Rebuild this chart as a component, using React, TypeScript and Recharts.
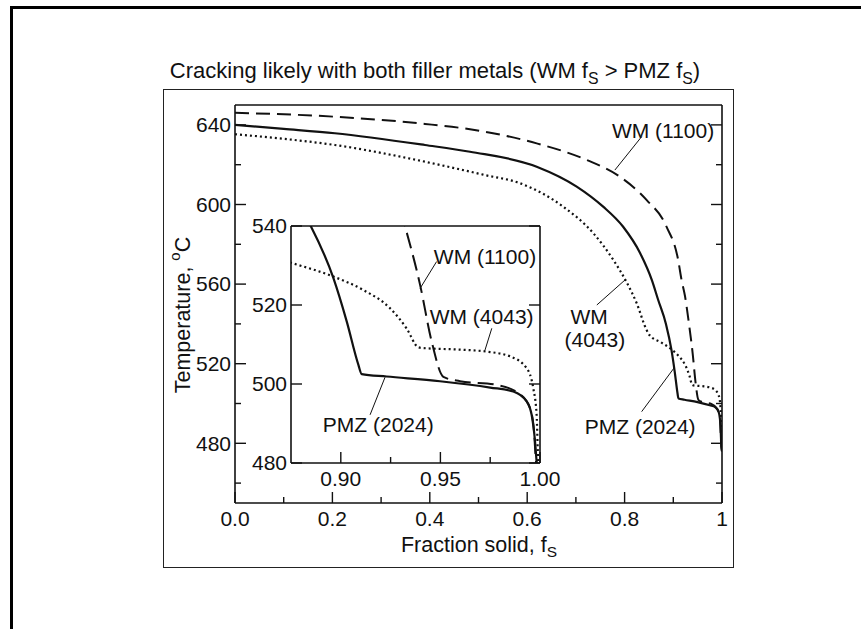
import React from 'react';
import { LineChart, Line, XAxis, YAxis, ReferenceLine, ReferenceDot, ReferenceArea } from 'recharts';

const FONT = '"Liberation Sans", Arial, Helvetica, sans-serif';
const INK = '#111';

// fraction solid vs temperature (deg C)
const pmz2024 = [
  { fs: 0, t: 640 }, { fs: 0.1, t: 638 }, { fs: 0.205, t: 635.8 }, { fs: 0.39, t: 629.9 },
  { fs: 0.4825, t: 626.5 }, { fs: 0.6195, t: 619 }, { fs: 0.7016, t: 609 }, { fs: 0.756, t: 598.9 },
  { fs: 0.797, t: 588.8 }, { fs: 0.832, t: 575.5 }, { fs: 0.856, t: 562 }, { fs: 0.869, t: 552 },
  { fs: 0.8849, t: 540 }, { fs: 0.8963, t: 526.8 }, { fs: 0.903, t: 515.8 }, { fs: 0.9088, t: 504.9 },
  { fs: 0.9105, t: 502.5 }, { fs: 0.923, t: 501.9 }, { fs: 0.9498, t: 500.7 }, { fs: 0.975, t: 499.1 },
  { fs: 0.9866, t: 498.1 }, { fs: 0.9933, t: 495.6 }, { fs: 0.9958, t: 492.2 }, { fs: 0.9975, t: 485.5 },
  { fs: 0.9983, t: 480.4 }, { fs: 1, t: 476 },
];

const wm4043 = [
  { fs: 0, t: 635.3 }, { fs: 0.1, t: 633 }, { fs: 0.205, t: 629.9 }, { fs: 0.39, t: 621.5 },
  { fs: 0.513, t: 614.8 }, { fs: 0.585, t: 610.7 }, { fs: 0.674, t: 598.9 }, { fs: 0.736, t: 585.5 },
  { fs: 0.777, t: 572.1 }, { fs: 0.804, t: 561 }, { fs: 0.825, t: 550.3 }, { fs: 0.845, t: 537 },
  { fs: 0.851, t: 534.4 }, { fs: 0.875, t: 530.7 }, { fs: 0.8963, t: 527.2 }, { fs: 0.9113, t: 523.8 },
  { fs: 0.9247, t: 519.2 }, { fs: 0.933, t: 514.1 }, { fs: 0.9389, t: 509.3 }, { fs: 0.9414, t: 509.1 },
  { fs: 0.9598, t: 508.7 }, { fs: 0.9732, t: 508.2 }, { fs: 0.9849, t: 507 }, { fs: 0.9933, t: 504 },
  { fs: 0.9966, t: 499 }, { fs: 0.9983, t: 492.2 }, { fs: 0.9991, t: 480.4 }, { fs: 1, t: 477 },
];

const wm1100 = [
  { fs: 0, t: 646.1 }, { fs: 0.205, t: 644.1 }, { fs: 0.39, t: 640.5 }, { fs: 0.4825, t: 637.8 },
  { fs: 0.6195, t: 630.7 }, { fs: 0.722, t: 622.4 }, { fs: 0.79, t: 614 }, { fs: 0.845, t: 602.3 },
  { fs: 0.886, t: 588.9 }, { fs: 0.91, t: 572.1 }, { fs: 0.917, t: 562 }, { fs: 0.924, t: 554 },
  { fs: 0.9322, t: 540 }, { fs: 0.9398, t: 525.1 }, { fs: 0.9456, t: 510.8 }, { fs: 0.9515, t: 501.8 },
  { fs: 0.9598, t: 500.7 }, { fs: 0.978, t: 499.8 }, { fs: 0.9902, t: 497.3 }, { fs: 0.995, t: 493.9 },
  { fs: 0.997, t: 488 }, { fs: 0.998, t: 480.4 }, { fs: 1, t: 476 },
];

const mainXTicks = [0, 0.1, 0.2, 0.3, 0.4, 0.5, 0.6, 0.7, 0.8, 0.9, 1];
const mainXLabels: Record<string, string> = { '0': '0.0', '0.2': '0.2', '0.4': '0.4', '0.6': '0.6', '0.8': '0.8', '1': '1' };
const mainYTicks = [460, 480, 500, 520, 540, 560, 580, 600, 620, 640];
const mainYLabels = [480, 520, 560, 600, 640];

const insetXTicks = [0.9, 0.925, 0.95, 0.975, 1];
const insetXLabels: Record<string, string> = { '0.9': '0.90', '0.95': '0.95', '1': '1.00' };
const insetYTicks = [480, 500, 520, 540];

const mainNotes = [
  { x: 0.879, y: 636.9, text: 'WM (1100)' },
  { x: 0.727, y: 543.6, text: 'WM' },
  { x: 0.739, y: 531.9, text: '(4043)' },
  { x: 0.832, y: 488.3, text: 'PMZ (2024)' },
];
const mainLeaders = [
  [0.835, 634.1, 0.78, 617.3],
  [0.743, 549.5, 0.801, 562.1],
  [0.835, 495.9, 0.902, 518],
];
const insetNotes = [
  { x: 0.9724, y: 532.2, text: 'WM (1100)' },
  { x: 0.9707, y: 517, text: 'WM (4043)' },
  { x: 0.9188, y: 489.6, text: 'PMZ (2024)' },
];
const insetLeaders = [
  [0.9481, 531, 0.9398, 524.2],
  [0.9758, 514.1, 0.9724, 508.6],
  [0.9147, 492.2, 0.9222, 501.7],
];

type Side = 'top' | 'bottom' | 'left' | 'right';

const makeTick = (side: Side, isMajor: (v: number) => boolean, labelOf: (v: number) => string | undefined, fontSize: number) =>
  (props: any) => {
    const { x, y, payload } = props;
    const v = payload.value as number;
    const len = isMajor(v) ? 11 : 6;
    const dx = side === 'left' ? len : side === 'right' ? -len : 0;
    const dy = side === 'top' ? len : side === 'bottom' ? -len : 0;
    const text = labelOf(v);
    return (
      <g>
        <line x1={x} y1={y} x2={x + dx} y2={y + dy} stroke={INK} strokeWidth={1.4} />
        {text && side === 'bottom' && (
          <text x={x} y={y + 23} textAnchor="middle" fontSize={fontSize} fontFamily={FONT} fill={INK}>{text}</text>
        )}
        {text && side === 'left' && (
          <text x={x - 4} y={y} dy="0.35em" textAnchor="end" fontSize={fontSize} fontFamily={FONT} fill={INK}>{text}</text>
        )}
      </g>
    );
  };

interface PanelProps {
  xDomain: [number, number];
  yDomain: [number, number];
  xTicks: number[];
  yTicks: number[];
  xMajor: (v: number) => boolean;
  yMajor: (v: number) => boolean;
  xLabel: (v: number) => string | undefined;
  yLabel: (v: number) => string | undefined;
  margin: { top: number; right: number; bottom: number; left: number };
  notes: { x: number; y: number; text: string }[];
  leaders: number[][];
  dash: string;
  whiteBg?: boolean;
}

function Panel(p: PanelProps) {
  const axisLine = { stroke: INK, strokeWidth: 1.6 };
  return (
    <div style={{ position: 'absolute', left: 0, top: 0 }}>
      <LineChart width={861} height={629} margin={p.margin}>
        <XAxis xAxisId="b" type="number" dataKey="fs" domain={p.xDomain} allowDataOverflow ticks={p.xTicks} interval={0}
          height={1} tickSize={0} tickMargin={0} tickLine={false} axisLine={axisLine}
          tick={makeTick('bottom', p.xMajor, p.xLabel, 21)} />
        <XAxis xAxisId="t" orientation="top" type="number" domain={p.xDomain} allowDataOverflow ticks={p.xTicks} interval={0}
          height={1} tickSize={0} tickMargin={0} tickLine={false} axisLine={axisLine}
          tick={makeTick('top', p.xMajor, () => undefined, 21)} />
        <YAxis yAxisId="l" type="number" domain={p.yDomain} allowDataOverflow ticks={p.yTicks} interval={0}
          width={1} tickSize={0} tickMargin={0} tickLine={false} axisLine={axisLine}
          tick={makeTick('left', p.yMajor, p.yLabel, 21)} />
        <YAxis yAxisId="r" orientation="right" type="number" domain={p.yDomain} allowDataOverflow ticks={p.yTicks} interval={0}
          width={1} tickSize={0} tickMargin={0} tickLine={false} axisLine={axisLine}
          tick={makeTick('right', p.yMajor, () => undefined, 21)} />
        {p.whiteBg && (
          <ReferenceArea xAxisId="b" yAxisId="l" x1={p.xDomain[0]} x2={p.xDomain[1]} y1={p.yDomain[0]} y2={p.yDomain[1]}
            fill="#fff" fillOpacity={1} stroke="none" ifOverflow="visible" />
        )}
        <Line xAxisId="b" yAxisId="l" data={wm1100} dataKey="t" type="monotone" stroke={INK} strokeWidth={2}
          strokeDasharray={p.dash} dot={false} isAnimationActive={false} />
        <Line xAxisId="b" yAxisId="l" data={wm4043} dataKey="t" type="monotone" stroke={INK} strokeWidth={2.2}
          strokeDasharray="2 3" dot={false} isAnimationActive={false} />
        <Line xAxisId="b" yAxisId="l" data={pmz2024} dataKey="t" type="monotone" stroke={INK} strokeWidth={2.2}
          dot={false} isAnimationActive={false} />
        {p.leaders.map((s, i) => (
          <ReferenceLine key={`ld-${i}`} xAxisId="b" yAxisId="l" stroke={INK} strokeWidth={1}
            segment={[{ x: s[0], y: s[1] }, { x: s[2], y: s[3] }]} />
        ))}
        {p.notes.map((n, i) => (
          <ReferenceDot key={`nt-${i}`} xAxisId="b" yAxisId="l" x={n.x} y={n.y}
            shape={(d: any) => (
              <text x={d.cx} y={d.cy} dy="0.35em" textAnchor="middle" fontSize={21} fontFamily={FONT} fill={INK}>{n.text}</text>
            )} />
        ))}
      </LineChart>
    </div>
  );
}

export default function App() {
  const txt: React.CSSProperties = { position: 'absolute', fontFamily: FONT, color: INK, whiteSpace: 'nowrap' };
  const sub: React.CSSProperties = { fontSize: '0.72em', verticalAlign: '-0.35em' };
  return (
    <div style={{ position: 'absolute', left: 0, top: 0, width: 861, height: 629, overflow: 'hidden', background: '#fff' }}>
      <div style={{ position: 'absolute', left: 10, top: 6, width: 900, height: 700, border: '3px solid #000', boxSizing: 'border-box' }} />
      <div style={{ position: 'absolute', left: 163, top: 89, width: 571, height: 479, border: '1.5px solid #222', boxSizing: 'border-box' }} />
      <div style={{ ...txt, left: 435, top: 58, fontSize: 22, transform: 'translateX(-50%)' }}>
        Cracking likely with both filler metals (WM f<span style={sub}>S</span> &gt; PMZ f<span style={sub}>S</span>)
      </div>
      <div style={{ ...txt, left: 181, top: 315, fontSize: 21.5, transform: 'translate(-50%, -50%) rotate(-90deg)' }}>
        Temperature, <span style={{ fontSize: '0.7em', verticalAlign: '0.6em' }}>o</span>C
      </div>
      <div style={{ ...txt, left: 479, top: 533, fontSize: 21.5, transform: 'translateX(-50%)' }}>
        Fraction solid, f<span style={sub}>S</span>
      </div>
      <Panel
        xDomain={[0, 1]} yDomain={[450, 650]}
        xTicks={mainXTicks} yTicks={mainYTicks}
        xMajor={(v) => mainXLabels[String(v)] !== undefined}
        yMajor={(v) => mainYLabels.includes(v)}
        xLabel={(v) => mainXLabels[String(v)]}
        yLabel={(v) => (mainYLabels.includes(v) ? String(v) : undefined)}
        margin={{ top: 104, right: 138, bottom: 125, left: 234 }}
        notes={mainNotes} leaders={mainLeaders} dash="14 7"
      />
      <Panel
        xDomain={[0.875, 1]} yDomain={[480, 540]}
        xTicks={insetXTicks} yTicks={insetYTicks}
        xMajor={(v) => insetXLabels[String(v)] !== undefined}
        yMajor={() => true}
        xLabel={(v) => insetXLabels[String(v)]}
        yLabel={(v) => String(v)}
        margin={{ top: 225, right: 320, bottom: 165, left: 290 }}
        notes={insetNotes} leaders={insetLeaders} dash="16 7" whiteBg
      />
    </div>
  );
}
